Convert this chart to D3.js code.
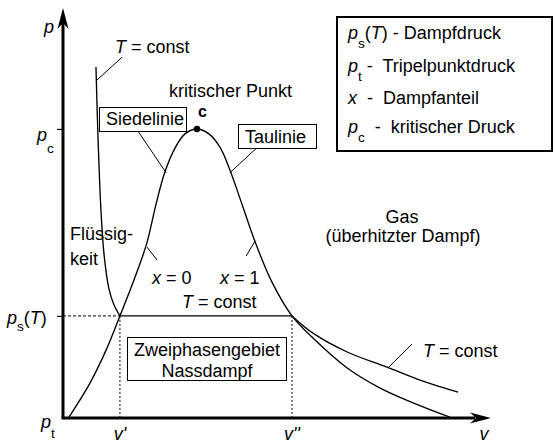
<!DOCTYPE html>
<html><head><meta charset="utf-8">
<script src="https://cdn.jsdelivr.net/npm/d3@7"></script>
<style>
body{margin:0;background:#fff}
svg{display:block;font-family:"Liberation Sans",Arial,sans-serif}
text{white-space:pre;fill:#000}
</style></head><body>
<script>
// ---- data (v, p in arbitrary units) ----
const saturationCurve = [
  [0.14,0.02],[0.63,0.85],[1.03,1.71],[1.33,2.49],[1.66,3.37],[1.96,4.27],
  [2.17,5.20],[2.38,6.00],[2.62,6.59],[2.85,6.93],[3.13,7.05],[3.41,6.93],
  [3.67,6.60],[3.90,6.05],[4.18,5.22],[4.49,4.29],[4.88,3.32],[5.35,2.49],
  [5.84,1.95],[6.64,1.22],[7.41,0.73],[8.18,0.37],[9.04,0.02]
];
const liquidIsotherm = [[0.77,8.56],[0.82,6.78],[0.89,5.00],[0.96,3.98],[1.07,3.17],[1.19,2.76],[1.33,2.49]];
const twoPhaseIsotherm = [[1.33,2.49],[5.35,2.49]];
const gasIsotherm = [[5.35,2.49],[5.84,2.07],[6.64,1.61],[7.57,1.24],[8.41,0.90],[9.23,0.63]];
const criticalPoint = [3.13,7.05];
const pS = 2.49, pC = 7.05;
const vPrime = 1.33, vDoublePrime = 5.35;
const leaderLines = [
  [[1.38,8.80],[0.79,8.24]],
  [[1.75,7.00],[2.41,5.98]],
  [[4.53,6.59],[3.90,5.98]],
  [[1.96,4.17],[2.20,3.85]],
  [[4.49,4.32],[4.28,3.95]],
  [[8.15,1.80],[7.59,1.22]]
];
const legendRows = [
  [{t:"p",it:1},{t:"s",sub:1},{t:"("},{t:"T",it:1},{t:") - Dampfdruck"}],
  [{t:"p",it:1},{t:"t",sub:1},{t:" -  Tripelpunktdruck"}],
  [{t:"x",it:1},{t:"  -  Dampfanteil"}],
  [{t:"p",it:1},{t:"c",sub:1},{t:"  -  kritischer Druck"}]
];

// ---- drawing ----
const W=555,H=444;
const svg=d3.select("body").append("svg").attr("width",W).attr("height",H);
const x=d3.scaleLinear().domain([0,10]).range([63,491]);
const y=d3.scaleLinear().domain([0,10]).range([418,8]);
const line=d3.line().x(d=>x(d[0])).y(d=>y(d[1]));
const curve=d3.line().x(d=>x(d[0])).y(d=>y(d[1])).curve(d3.curveCatmullRom.alpha(0.5));

function rich(g,px,py,parts,opt={}){
  const fs=opt.fs||18, subOff=opt.sub||9;
  const t=g.append("text").attr("x",px).attr("y",py).attr("font-size",fs);
  if(opt.anchor) t.attr("text-anchor",opt.anchor);
  let shifted=0;
  parts.forEach(p=>{
    const s=t.append("tspan").text(p.t);
    if(p.it) s.attr("font-style","italic");
    if(p.bold) s.attr("font-weight","bold");
    if(p.sub){ s.attr("font-size",fs*0.76).attr("dy",subOff-shifted); shifted=subOff; }
    else if(shifted){ s.attr("dy",-shifted); shifted=0; }
  });
  return t;
}

// axis ticks via d3 axis
const yAxis=d3.axisLeft(y).tickValues([pS,pC]).tickSize(6).tickSizeOuter(0).tickFormat("");
const ga=svg.append("g").attr("transform",`translate(${x(0)},0)`).call(yAxis);
ga.select(".domain").remove();
ga.selectAll(".tick line").attr("stroke","#000").attr("stroke-width",1.2);

// dashed guides
svg.append("line").attr("x1",x(0)).attr("x2",x(vPrime)).attr("y1",y(pS)).attr("y2",y(pS))
  .attr("stroke","#000").attr("stroke-width",1).attr("stroke-dasharray","3,2");
[vPrime,vDoublePrime].forEach(v=>{
  svg.append("line").attr("x1",x(v)).attr("x2",x(v)).attr("y1",y(pS)).attr("y2",y(0))
    .attr("stroke","#000").attr("stroke-width",1).attr("stroke-dasharray","2,2");
});

// curves
const cs={fill:"none",stroke:"#000","stroke-width":1.35};
function path(d,gen){const p=svg.append("path").attr("d",gen(d));Object.entries(cs).forEach(([k,v])=>p.attr(k,v));return p;}
path(saturationCurve,curve);
path(liquidIsotherm,curve);
path(twoPhaseIsotherm,line);
path(gasIsotherm,curve);

// leader lines
leaderLines.forEach(l=>svg.append("path").attr("d",line(l)).attr("stroke","#000").attr("stroke-width",1).attr("fill","none"));

// axes lines + arrows
svg.append("path").attr("d",`M${x(0)},${y(0)}V${y(0)-398}`).attr("stroke","#000").attr("stroke-width",3).attr("fill","none");
svg.append("path").attr("d",`M${x(0)-1.5},${y(0)}H${x(10)-16}`).attr("stroke","#000").attr("stroke-width",3).attr("fill","none");
const tipY=y(10), tipX=x(10);
svg.append("path").attr("d",`M${x(0)},${tipY}L${x(0)+5.5},${tipY+21}L${x(0)},${tipY+15}L${x(0)-5.5},${tipY+21}Z`).attr("fill","#000");
svg.append("path").attr("d",`M${tipX},${y(0)}L${tipX-21},${y(0)-5.5}L${tipX-15},${y(0)}L${tipX-21},${y(0)+5.5}Z`).attr("fill","#000");

// critical point
svg.append("circle").attr("cx",x(criticalPoint[0])).attr("cy",y(criticalPoint[1])).attr("r",3.2).attr("fill","#000");

// boxes
function box(x0,y0,w,h,sw){svg.append("rect").attr("x",x0).attr("y",y0).attr("width",w).attr("height",h).attr("fill","#fff").attr("stroke","#000").attr("stroke-width",sw);}
box(99.5,107.5,87,24,1);
box(238.5,124.5,78,24,1);
box(127.5,337.5,159,43,1);
box(337,17,215,134,2);

const g=svg.append("g");
// axis labels
rich(g,44,33,[{t:"p",it:1}]);
rich(g,37,141,[{t:"p",it:1},{t:"c",sub:1}],{sub:12});
rich(g,7,324,[{t:"p",it:1},{t:"s",sub:1},{t:"("},{t:"T",it:1},{t:")"}],{sub:7});
rich(g,41,428,[{t:"p",it:1},{t:"t",sub:1}],{sub:10});
rich(g,x(vPrime),440,[{t:"v'",it:1}],{anchor:"middle"});
rich(g,x(vDoublePrime),440,[{t:"v''",it:1}],{anchor:"middle"});
rich(g,484,440,[{t:"v",it:1}],{anchor:"middle"});

// annotations
rich(g,115,53,[{t:"T",it:1},{t:" = const"}]);
rich(g,169,97,[{t:"kritischer Punkt"}]);
rich(g,198,117,[{t:"c",bold:1}],{fs:16});
rich(g,106,125,[{t:"Siedelinie"}]);
rich(g,245,143,[{t:"Taulinie"}]);
rich(g,70,240,[{t:"Flüssig-"}]);
rich(g,70,265,[{t:"keit"}]);
rich(g,152,284,[{t:"x",it:1},{t:" = 0"}]);
rich(g,220,284,[{t:"x",it:1},{t:" = 1"}]);
rich(g,182,308,[{t:"T",it:1},{t:" = const"}]);
rich(g,402,223,[{t:"Gas"}],{anchor:"middle"});
rich(g,403,242,[{t:"(überhitzter Dampf)"}],{anchor:"middle"});
rich(g,207,356,[{t:"Zweiphasengebiet"}],{anchor:"middle"});
rich(g,207,377,[{t:"Nassdampf"}],{anchor:"middle"});
rich(g,423,357,[{t:"T",it:1},{t:" = const"}]);

// legend
const legY=[39,72,104,133];
legendRows.forEach((r,i)=>rich(g,348,legY[i],r,{sub:9}));
</script>
</body></html>
